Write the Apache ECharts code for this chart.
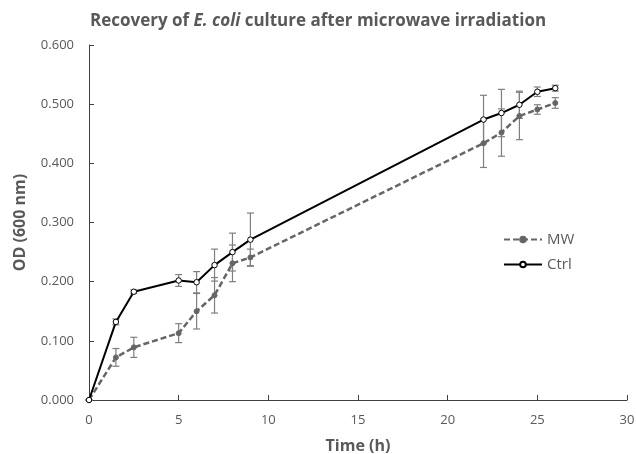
<!DOCTYPE html>
<html><head><meta charset="utf-8">
<script src="https://cdn.jsdelivr.net/npm/echarts@6/dist/echarts.min.js"></script>
<style>html,body{margin:0;padding:0;background:#fff}#c{width:636px;height:454px}</style>
</head><body><div id="c"></div>
<script>
var times = [0, 1.5, 2.5, 5, 6, 7, 8, 9, 22, 23, 24, 25, 26];
var mwValues = [0, 0.072, 0.089, 0.113, 0.150, 0.177, 0.231, 0.241, 0.434, 0.452, 0.480, 0.491, 0.502];
var mwErrors = [0, 0.015, 0.017, 0.016, 0.030, 0.030, 0.031, 0.014, 0.041, 0.040, 0.040, 0.008, 0.009];
var ctrlValues = [0, 0.132, 0.183, 0.202, 0.199, 0.228, 0.250, 0.271, 0.474, 0.485, 0.499, 0.521, 0.527];
var ctrlErrors = [0, 0.005, 0.003, 0.010, 0.018, 0.027, 0.032, 0.045, 0.041, 0.040, 0.023, 0.008, 0.005];

function pairs(vals){ return times.map(function(t,i){return [t, vals[i]];}); }
function errData(vals, errs){ return times.map(function(t,i){return [t, vals[i]-errs[i], vals[i]+errs[i]];}); }
function errRender(params, api){
  var x = api.value(0);
  var lo = api.coord([x, api.value(1)]);
  var hi = api.coord([x, api.value(2)]);
  var w = 3.5;
  var st = {stroke:'#7f7f7f', lineWidth:1.2};
  return {type:'group', children:[
    {type:'line', shape:{x1:lo[0],y1:lo[1],x2:hi[0],y2:hi[1]}, style:st},
    {type:'line', shape:{x1:lo[0]-w,y1:lo[1],x2:lo[0]+w,y2:lo[1]}, style:st},
    {type:'line', shape:{x1:hi[0]-w,y1:hi[1],x2:hi[0]+w,y2:hi[1]}, style:st}
  ]};
}
var chart = echarts.init(document.getElementById('c'));
var font = 'Open Sans';
chart.setOption({
  animation:false,
  title:{
    text:'{n|Recovery of }{i|E. coli}{n| culture after microwave irradiation}',
    left:'center', top:8,
    textStyle:{rich:{
      n:{fontFamily:font,fontWeight:'bold',fontSize:17,color:'#595959'},
      i:{fontFamily:font,fontWeight:'bold',fontStyle:'italic',fontSize:17,color:'#595959'}
    }}
  },
  legend:{
    orient:'vertical', left:498, top:227, itemGap:10, itemWidth:38, itemHeight:7,
    textStyle:{fontFamily:font,fontSize:15,color:'#595959'},
    data:['MW','Ctrl']
  },
  grid:{left:89,right:9,top:45,bottom:54,containLabel:false,outerBoundsMode:'none'},
  xAxis:{
    type:'value', min:0, max:30, interval:5,
    name:'Time (h)', nameLocation:'middle', nameGap:38,
    nameTextStyle:{fontFamily:font,fontWeight:'bold',fontSize:16,color:'#595959'},
    axisLine:{show:true,lineStyle:{color:'#404040',width:1}},
    axisTick:{show:true,length:5,inside:true,lineStyle:{color:'#404040'}},
    axisLabel:{fontFamily:font,fontSize:13,color:'#595959',margin:14},
    splitLine:{show:false}
  },
  yAxis:{
    type:'value', min:0, max:0.6, interval:0.1,
    name:'OD (600 nm)', nameLocation:'middle', nameGap:61,
    nameTextStyle:{fontFamily:font,fontWeight:'bold',fontSize:16,color:'#595959'},
    axisLine:{show:true,lineStyle:{color:'#404040',width:1}},
    axisTick:{show:true,length:5,inside:true,lineStyle:{color:'#404040'}},
    axisLabel:{fontFamily:font,fontSize:13,color:'#595959',margin:15,formatter:function(v){return v.toFixed(3);}},
    splitLine:{show:false}
  },
  series:[
    {type:'custom', name:'MWerr', renderItem:errRender, data:errData(mwValues,mwErrors), z:1, silent:true, encode:{x:0,y:[1,2]}},
    {type:'custom', name:'Ctrlerr', renderItem:errRender, data:errData(ctrlValues,ctrlErrors), z:1, silent:true, encode:{x:0,y:[1,2]}},
    {type:'line', name:'MW', data:pairs(mwValues), z:3,
      lineStyle:{color:'#666',width:2.5,type:[6,3]},
      itemStyle:{color:'#666',borderColor:'#666',borderWidth:1},
      symbol:'circle', symbolSize:5, showAllSymbol:true},
    {type:'line', name:'Ctrl', data:pairs(ctrlValues), z:4,
      lineStyle:{color:'#000',width:2},
      itemStyle:{color:'#fff',borderColor:'#000',borderWidth:1},
      symbol:'circle', symbolSize:5.5, showAllSymbol:true}
  ]
});
</script></body></html>
